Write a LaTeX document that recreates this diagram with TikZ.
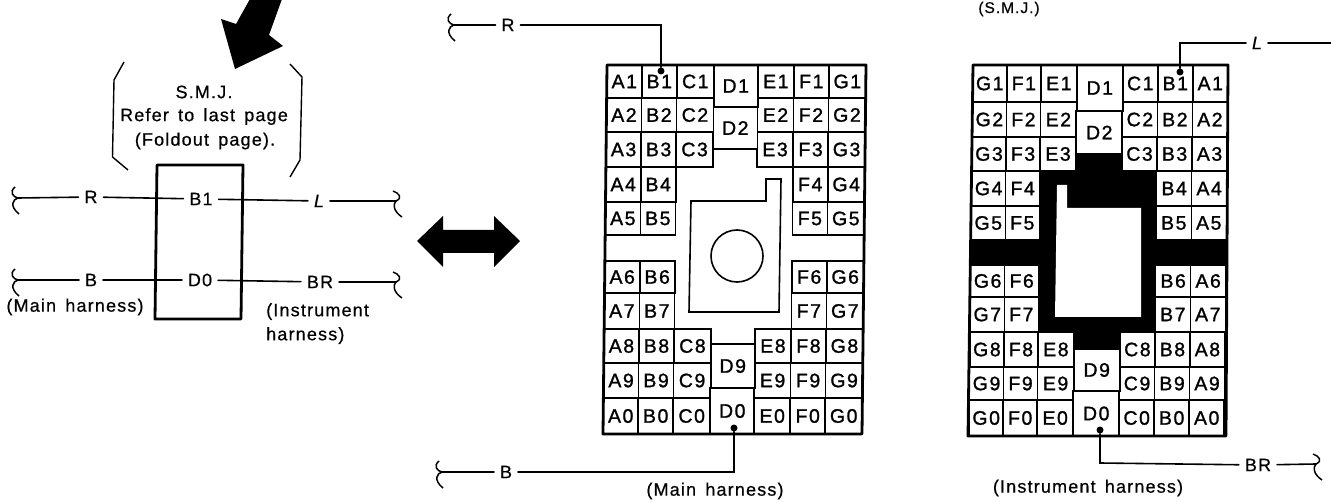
\documentclass[tikz,border=0pt]{standalone}
\usepackage{fontspec}
\setmainfont{Liberation Sans}
\newfontfamily\tfont{Liberation Sans}[LetterSpace=6.5,WordSpace=1.5,FakeBold=0.6]
\newfontfamily\cfont{Liberation Sans}[LetterSpace=8,FakeBold=1.2]
\tikzset{
  x=1pt,y=-1pt,
  wire/.style={line width=1.6pt,line cap=round},
  squig/.style={line width=1.5pt},
  frameline/.style={line width=2.8pt,line join=round},
  cellbox/.style={draw,line width=1.6pt,fill=white,inner sep=0pt,outer sep=0pt,font=\cfont\fontsize{19.5}{21}\selectfont},
  lab/.style={inner sep=0pt,outer sep=6pt,font=\tfont\fontsize{18}{20}\selectfont},
  txt/.style={inner sep=0pt,font=\tfont\fontsize{18}{24}\selectfont},
  dotnode/.style={circle,fill=black,inner sep=0pt,minimum size=7pt},
}
% name, label, x0, x1, y0, y1 ; slant taken from \slantval, reference row 65
\newcommand{\gcell}[6]{%
  \node[cellbox,minimum width={(#4-#3)*1pt},minimum height={(#6-#5)*1pt}] (#1)
    at ({(#3+#4)/2+\slantval*((#5+#6)/2-65)},{(#5+#6)/2}) {#2};}
\newcommand{\sqleft}[1]{%
  \begin{scope}[shift={(#1)}]
  \draw[squig] (-3,-11) .. controls (-9,-6) and (-5,-1) .. (0,0)
     .. controls (-5,1) and (-9,8) .. (1,16);
  \end{scope}}
\newcommand{\sqright}[1]{%
  \begin{scope}[shift={(#1)}]
  \draw[squig] (-3,-10) .. controls (3,-8) and (7,-3) .. (0,0)
     .. controls (-3,3) and (-3,10) .. (6,16);
  \end{scope}}
\begin{document}
\begin{tikzpicture}
\useasboundingbox (0,0) rectangle (1331,502);
% big arrows
\fill (250,-1) -- (282,-1) -- (269,35) -- (283,46) -- (235,69) -- (221,19) -- (236,24) -- cycle;
\fill (417,241) -- (443,216) -- (443,230) -- (494,230) -- (494,216) -- (520,241) -- (494,267) -- (494,253) -- (443,253) -- (443,267) -- cycle;
% brackets
\draw[line width=1.4pt] (124,62) -- (114,80) -- (112.5,157) -- (128,170);
\draw[line width=1.4pt] (290,64) -- (302,77) -- (300,160) -- (290,177);
\node[txt] (smj) at (204,92) {S.M.J.};
\node[txt] (refer) at (204,116.5) {Refer to last page};
\node[txt] (fold) at (205,141) {(Foldout page).};
% schematic
\draw[line width=2.8pt,line join=round] (157,165) -- (243,165) -- (241,319) -- (155,319) -- cycle;
\node[lab] (sB1) at (201,199) {B1};
\node[lab] (sD0) at (200,280) {D0};
\node[lab] (sR) at (91,197) {R};
\node[lab] (sL) at (319,201) {\itshape L};
\node[lab] (sB) at (91,280) {B};
\node[lab] (sBR) at (320,282) {BR};
\coordinate (tR) at (18,198);
\coordinate (tB) at (18,280);
\coordinate (tL) at (396,201);
\coordinate (tBR) at (396,282);
\sqleft{tR}\sqleft{tB}\sqright{tL}\sqright{tBR}
\draw[wire] (tR) -- (sR);
\draw[wire] (sR) -- (sB1);
\draw[wire] (sB1) -- (sL);
\draw[wire] (sL) -- (tL);
\draw[wire] (tB) -- (sB);
\draw[wire] (sB) -- (sD0);
\draw[wire] (sD0) -- (sBR);
\draw[wire] (sBR) -- (tBR);
\node[txt] (mainL) at (75,307) {(Main harness)};
\node[txt,align=left,anchor=north west] (instL) at (266,303) {(Instrument\\harness)};
% ---------- main harness grid
\def\slantval{-0.0108}
\foreach \l/\xa/\xb in {A/607/642,B/642/677,F/794/829,G/829/866}{
  \foreach \n/\ya/\yb in {1/65/98,2/98/132,3/132/167,4/167/202,5/202/235,6/261/293,7/293/329,8/329/363,9/363/398,0/398/434}{
    \gcell{m\l\n}{\l\n}{\xa}{\xb}{\ya}{\yb}
  }}
\foreach \l/\xa/\xb in {C/677/714,E/758/794}{
  \foreach \n/\ya/\yb in {1/65/98,2/98/132,3/132/167,8/329/363,9/363/398,0/398/434}{
    \gcell{m\l\n}{\l\n}{\xa}{\xb}{\ya}{\yb}
  }}
\foreach \n/\ya/\yb in {1/65/107,2/107/149,9/344/388,0/388/434}{
  \gcell{mD\n}{D\n}{714}{758}{\ya}{\yb}
}
\draw[frameline] (607,65) -- (866,65) -- (862,434) -- (603,434) -- cycle;
\draw[line width=1.6pt] (691,201) -- (766,201) -- (766,179) -- (781,179) -- (779,312) -- (689,312) -- cycle;
\draw[line width=1.6pt] (737,256) circle (26);
\node[dotnode] (dB1m) at (661,71) {};
\node[dotnode] (dD0m) at (734,428) {};
\node[lab] (mR) at (508,25) {R};
\node[lab] (mB) at (506,472) {B};
\coordinate (tmR) at (454,25);
\coordinate (tmB) at (442,472);
\coordinate (kmR) at (661,25);
\coordinate (kmB) at (734,472);
\sqleft{tmR}\sqleft{tmB}
\draw[wire] (tmR) -- (mR);
\draw[wire] (mR) -- (kmR) -- (dB1m);
\draw[wire] (tmB) -- (mB);
\draw[wire] (mB) -- (kmB) -- (dD0m);
\node[txt] (mainM) at (715,491) {(Main harness)};
% ---------- instrument harness grid
\def\slantval{-0.0108}
\fill (973,65) -- (1228,65) -- (1226,436) -- (968,436) -- cycle;
\foreach \l/\xa/\xb in {G/973/1007,F/1007/1041,B/1158/1193,A/1193/1228}{
  \foreach \n/\ya/\yb in {1/65/102,2/102/137,3/137/171,4/171/206,5/206/240,6/265/297,7/297/332,8/332/367,9/367/400,0/400/436}{
    \gcell{r\l\n}{\l\n}{\xa}{\xb}{\ya}{\yb}
  }}
\foreach \l/\xa/\xb in {E/1041/1077,C/1123/1158}{
  \foreach \n/\ya/\yb in {1/65/102,2/102/137,3/137/171,8/332/367,9/367/400,0/400/436}{
    \gcell{r\l\n}{\l\n}{\xa}{\xb}{\ya}{\yb}
  }}
\foreach \n/\ya/\yb in {1/65/111,2/111/154,9/349/391,0/391/436}{
  \gcell{rD\n}{D\n}{1077}{1123}{\ya}{\yb}
}
\draw[frameline] (973,65) -- (1228,65) -- (1226,436) -- (968,436) -- cycle;
\fill[white] (1057,185) -- (1067,185) -- (1067,208) -- (1141,208) -- (1141,317) -- (1055,317) -- cycle;
\node[dotnode] (dB1r) at (1180,72) {};
\node[dotnode] (dD0r) at (1100,430) {};
\node[lab] (rL) at (1257,43) {\itshape L};
\node[lab] (rBR) at (1258,465) {BR};
\coordinate (trL) at (1331,43);
\coordinate (trBR) at (1316,464);
\coordinate (krL) at (1180,43);
\coordinate (krBR) at (1100,463);
\sqright{trBR}
\draw[wire] (dB1r) -- (krL) -- (rL);
\draw[wire] (rL) -- (trL);
\draw[wire] (dD0r) -- (krBR) -- (rBR);
\draw[wire] (rBR) -- (trBR);
\node[txt] (instR) at (1088,488) {(Instrument harness)};
\node[txt,font=\tfont\fontsize{15.5}{17}\selectfont] (smjr) at (1009,9) {(S.M.J.)};
\end{tikzpicture}
\end{document}
